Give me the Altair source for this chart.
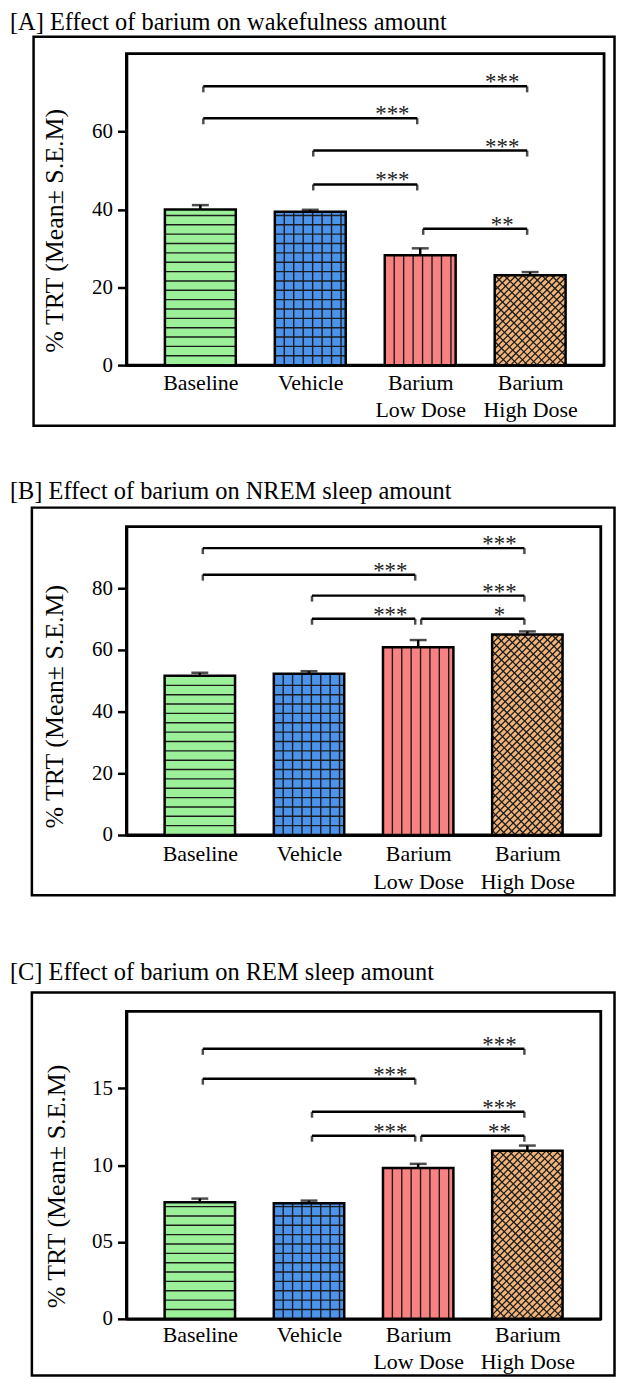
import json
import altair as alt
import pandas as pd

# ---------------- data ----------------
categories = ["Baseline", "Vehicle", "Barium\nLow Dose", "Barium\nHigh Dose"]
bar_colors = ["#9CF09A", "#4C93EC", "#F88282", "#F1B57C"]

titles = [
    "[A] Effect of barium on wakefulness amount",
    "[B] Effect of barium on NREM sleep amount",
    "[C] Effect of barium on REM sleep amount",
]
y_title = "% TRT (Mean\u00b1 S.E.M)"

wake_mean = [40.0, 39.4, 28.2, 23.1]
wake_sem = [1.1, 0.5, 1.8, 0.8]
nrem_mean = [51.6, 52.3, 60.9, 65.0]
nrem_sem = [1.0, 0.8, 2.3, 1.0]
rem_mean = [7.58, 7.52, 9.81, 10.94]
rem_sem = [0.24, 0.17, 0.27, 0.33]

cmp_left = ["Baseline", "Baseline", "Vehicle", "Vehicle", "Barium\nLow Dose"]
cmp_right = ["Barium\nHigh Dose", "Barium\nLow Dose", "Barium\nHigh Dose",
             "Barium\nLow Dose", "Barium\nHigh Dose"]
wake_level = [71.6, 63.4, 55.1, 46.4, 35.0]
wake_sig = ["***", "***", "***", "***", "**"]
nrem_level = [93.0, 84.4, 77.6, 70.1, 70.1]
nrem_sig = ["***", "***", "***", "***", "*"]
rem_level = [17.56, 15.62, 13.47, 11.91, 11.91]
rem_sig = ["***", "***", "***", "***", "**"]

wake_ticks = [0, 20, 40, 60]
nrem_ticks = [0, 20, 40, 60, 80]
rem_ticks = [0, 5, 10, 15]
rem_tick_labels = ["0", "05", "10", "15"]

# ---------------- style ----------------
SERIF = "Liberation Serif"
LINE = "#1c1c1c"
PI, PO = 0.355, 0.35
CAT_JS = json.dumps(categories)

geoms = [
    dict(W=480, H=313, ymax=80, tx=-117, ty=-24, ytx=-72, yty=178,
         lpad=8, lh=27, rect=(-93.3, 490.5, -17, 374), spacer=None),
    dict(W=476.7, H=310, ymax=100, tx=-117, ty=-27.6, ytx=-72, yty=181,
         lpad=9, lh=28, rect=(-95, 490.5, -19, 370.6), spacer=None),
    dict(W=476.7, H=309, ymax=20, tx=-117, ty=-31, ytx=-70, yty=176,
         lpad=6, lh=27, rect=(-95, 490.5, -19, 366), spacer=-62.2),
]


def panel(title, means, sems, levels, sigs, ticks, g, tick_labels=None):
    W, H, ymax = g["W"], g["H"], g["ymax"]
    ppu = H / ymax                      # px per y unit
    step = W / (4 - PI + 2 * PO)        # px per category step
    hw = (1 - PI) / 2                   # half bar width in step units
    bw = step * (1 - PI)                # bar width px
    a = PO + hw
    hstep = 9.4 / ppu
    vstep = (bw / 7.5) / step

    bars = pd.DataFrame({"cat": categories, "mean": means, "sem": sems})
    cmp = pd.DataFrame({"left": cmp_left, "right": cmp_right,
                        "level": levels, "sig": sigs})

    xscale = alt.Scale(domain=[-a, 3 + a], nice=False, zero=False)
    xaxis = alt.Axis(title=None, values=[0, 1, 2, 3],
                     labelExpr=f"split({CAT_JS}[datum.value], '\\n')",
                     labelAngle=0, ticks=False, grid=False, labelFlush=False,
                     labelOverlap=False, labelFont=SERIF, labelFontSize=22,
                     labelPadding=g["lpad"], labelLineHeight=g["lh"],
                     labelColor="black", domainColor="black", domainWidth=2.8)
    yscale = alt.Scale(domain=[0, ymax], nice=False)
    ykw = {}
    if tick_labels:
        ykw["labelExpr"] = " : ".join(
            f"datum.value == {v} ? '{t}'" for v, t in zip(ticks, tick_labels)
        ) + " : datum.label"
    yaxis = alt.Axis(title=None, values=ticks, grid=False, tickSize=9,
                     tickWidth=2.5, tickColor="black", domainColor="black",
                     domainWidth=2.8, labelFont=SERIF, labelFontSize=21,
                     labelPadding=5, labelColor="black", labelFlush=False,
                     **ykw)

    def X(f):
        return alt.X(f"{f}:Q", scale=xscale, axis=xaxis)

    def Y(f):
        return alt.Y(f"{f}:Q", scale=yscale, axis=yaxis)

    base = alt.Chart(bars).transform_calculate(
        idx=f"indexof({CAT_JS}, datum.cat)"
    ).transform_calculate(
        x0=f"datum.idx - {hw}", x1=f"datum.idx + {hw}",
        top="datum.mean + datum.sem", zero="0"
    )

    fill = base.mark_bar(strokeWidth=0).encode(
        x=X("x0"), x2="x1:Q", y=Y("mean"), y2="zero:Q",
        color=alt.Color("cat:N", scale=alt.Scale(domain=categories, range=bar_colors),
                        legend=None))

    # horizontal stripes (Baseline, Vehicle)
    hl = (base.transform_filter(alt.FieldOneOfPredicate(field="cat", oneOf=categories[:2]))
          .transform_calculate(k=f"sequence(1, ceil(datum.mean / {hstep}))")
          .transform_flatten(["k"])
          .transform_calculate(yk=f"datum.k * {hstep}")
          .transform_filter(f"datum.yk < datum.mean - {0.3 * hstep}")
          .mark_rule(strokeWidth=1.4, color=LINE)
          .encode(x=X("x0"), x2="x1:Q", y=Y("yk")))

    # vertical stripes (Vehicle, Low Dose)
    vl = (base.transform_filter(alt.FieldOneOfPredicate(field="cat", oneOf=categories[1:3]))
          .transform_calculate(k="sequence(1, 8)")
          .transform_flatten(["k"])
          .transform_calculate(xv=f"datum.x0 + datum.k * {vstep}")
          .mark_rule(strokeWidth=1.4, color=LINE)
          .encode(x=X("xv"), y=Y("mean"), y2="zero:Q"))

    hi = base.transform_filter(alt.FieldEqualPredicate(field="cat", equal=categories[3]))

    # diagonal weave (High Dose): "/" family
    d1 = 6.5
    dg1 = (hi.transform_calculate(hp=f"datum.mean * {ppu}")
           .transform_calculate(c=f"sequence({-bw + d1 / 2}, datum.hp, {d1})")
           .transform_flatten(["c"])
           .transform_calculate(u0="max(0, -datum.c)")
           .transform_calculate(u1=f"min({bw}, datum.hp - datum.c)")
           .transform_filter("datum.u1 - datum.u0 > 0.5")
           .transform_calculate(pts=f"[[datum.u0, datum.u0 + datum.c], [datum.u1, datum.u1 + datum.c]]")
           .transform_flatten(["pts"])
           .transform_calculate(xd=f"datum.x0 + datum.pts[0] / {step}")
           .transform_calculate(yd=f"datum.pts[1] / {ppu}")
           .mark_line(strokeWidth=1.3, color=LINE)
           .encode(x=X("xd"), y=Y("yd"), detail="c:Q"))

    # "\" family
    d2 = 9.5
    dg2 = (hi.transform_calculate(hp=f"datum.mean * {ppu}")
           .transform_calculate(c=f"sequence({d2 / 2}, datum.hp + {bw}, {d2})")
           .transform_flatten(["c"])
           .transform_calculate(u0="max(0, datum.c - datum.hp)")
           .transform_calculate(u1=f"min({bw}, datum.c)")
           .transform_filter("datum.u1 - datum.u0 > 0.5")
           .transform_calculate(pts=f"[[datum.u0, datum.c - datum.u0], [datum.u1, datum.c - datum.u1]]")
           .transform_flatten(["pts"])
           .transform_calculate(xd=f"datum.x0 + datum.pts[0] / {step}")
           .transform_calculate(yd=f"datum.pts[1] / {ppu}")
           .mark_line(strokeWidth=1.3, color=LINE)
           .encode(x=X("xd"), y=Y("yd"), detail="c:Q"))

    outline = base.mark_bar(fillOpacity=0, stroke="black", strokeWidth=2.5).encode(
        x=X("x0"), x2="x1:Q", y=Y("mean"), y2="zero:Q")
    err = base.mark_rule(strokeWidth=2.5, color="black").encode(
        x=X("idx"), y=Y("mean"), y2="top:Q")
    cap = base.mark_tick(orient="horizontal", size=17, thickness=2.5, color="black").encode(
        x=X("idx"), y=Y("top"))

    cb = alt.Chart(cmp).transform_calculate(
        li=f"indexof({CAT_JS}, datum.left)", ri=f"indexof({CAT_JS}, datum.right)"
    ).transform_calculate(
        lx=f"datum.li + {3 / step}", rx=f"datum.ri - {3 / step}"
    )
    hline = cb.mark_rule(strokeWidth=2.5, color="black").encode(
        x=X("lx"), x2="rx:Q", y=Y("level"))
    lt = cb.mark_tick(orient="vertical", size=6, thickness=2.5, color="black",
                      yOffset=3).encode(x=X("lx"), y=Y("level"))
    rt = cb.mark_tick(orient="vertical", size=6, thickness=2.5, color="black",
                      yOffset=3).encode(x=X("rx"), y=Y("level"))
    stars = cb.mark_text(font=SERIF, fontSize=23, color="#222", dx=-28, dy=3,
                         baseline="alphabetic").encode(
        x=X("ri"), y=Y("level"), text="sig:N")

    deco = alt.Chart(pd.DataFrame({"t": [title], "yt": [y_title]}))
    ttl = deco.mark_text(font=SERIF, fontSize=24.5, color="black", align="left",
                         baseline="alphabetic").encode(
        x=alt.value(g["tx"]), y=alt.value(g["ty"]), text="t:N")
    ytl = deco.mark_text(font=SERIF, fontSize=26, color="black", align="center",
                         baseline="middle", angle=270).encode(
        x=alt.value(g["ytx"]), y=alt.value(g["yty"]), text="yt:N")
    rx0, rx1, ry0, ry1 = g["rect"]
    outer = deco.mark_rect(fillOpacity=0, stroke="black", strokeWidth=2.5).encode(
        x=alt.value(rx0), x2=alt.value(rx1), y=alt.value(ry0), y2=alt.value(ry1))

    layers = [fill, hl, vl, dg1, dg2, outline, err, cap, hline, lt, rt,
              stars, ttl, ytl, outer]
    if g["spacer"] is not None:
        # invisible layout spacer that sets the gap above this panel
        layers.append(deco.mark_rule(strokeOpacity=0, strokeWidth=1).encode(
            x=alt.value(0), x2=alt.value(10), y=alt.value(g["spacer"])))
    return alt.layer(*layers).properties(width=W, height=H)


pA = panel(titles[0], wake_mean, wake_sem, wake_level, wake_sig, wake_ticks, geoms[0])
pB = panel(titles[1], nrem_mean, nrem_sem, nrem_level, nrem_sig, nrem_ticks, geoms[1])
pC = panel(titles[2], rem_mean, rem_sem, rem_level, rem_sig, rem_ticks, geoms[2],
           tick_labels=rem_tick_labels)

chart = alt.vconcat(pA, pB, pC, spacing=49.2).properties(
    padding={"top": -3.5, "bottom": 0, "left": 0, "right": 0},
    background="white"
).configure_view(stroke="black", strokeWidth=2.8)

chart.save("out.html", embed_options={"renderer": "svg", "actions": False})
